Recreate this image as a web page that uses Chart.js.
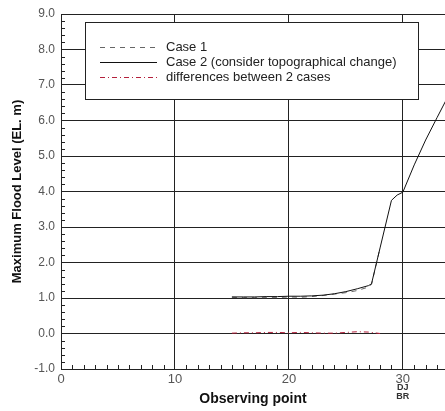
<!DOCTYPE html>
<html>
<head>
<meta charset="utf-8">
<script src="https://cdn.jsdelivr.net/npm/chart.js@4.4.0/dist/chart.umd.min.js"></script>
<style>
body { margin: 0; background: #fff; }
</style>
</head>
<body>
<canvas id="myChart" width="445" height="411"></canvas>
<script>
// data
var xTicks = [0, 10, 20, 30];
var case1X = [15, 16, 17, 18, 19, 20, 21, 22, 23, 24, 25, 26, 27, 27.25, 28];
var case1Y = [1.02, 1.01, 1.01, 1.01, 1.01, 1.03, 1.02, 1.04, 1.07, 1.11, 1.15, 1.21, 1.31, 1.38, 2.41];
var case2X = [15, 16, 17, 18, 19, 20, 21, 22, 23, 24, 25, 26, 27, 27.25, 28, 29, 29.5, 30, 31, 32, 33, 34];
var case2Y = [1.03, 1.03, 1.03, 1.04, 1.04, 1.05, 1.05, 1.06, 1.08, 1.12, 1.18, 1.26, 1.35, 1.40, 2.41, 3.75, 3.9, 3.98, 4.75, 5.45, 6.08, 6.7];
var diffX = [15, 16, 17, 18, 19, 20, 21, 22, 23, 24, 25, 26, 27, 28];
var diffY = [0.01, 0.02, 0.02, 0.03, 0.03, 0.02, 0.03, 0.02, 0.01, 0.01, 0.03, 0.05, 0.04, 0.0];
var seriesNames = ['Case 1', 'Case 2 (consider topographical change)', 'differences between 2 cases'];

var fontFam = "'Liberation Sans', Arial, sans-serif";

function toPoints(xs, ys) {
    var pts = [];
    for (var i = 0; i < xs.length; i++) {
        pts.push({x: xs[i], y: ys[i]});
    }
    return pts;
}

// minor ticks, the white legend box and the DJ/BR note under 30
var extrasPlugin = {
    id: 'extras',
    beforeDatasetsDraw: function(chart) {
        var ctx = chart.ctx;
        var xs = chart.scales.x, ys = chart.scales.y;
        var area = chart.chartArea;
        ctx.save();
        ctx.strokeStyle = '#222';
        ctx.lineWidth = 1;
        ctx.beginPath();
        for (var k = -5; k <= 45; k++) {
            if (k % 5 == 0) continue;
            var py = Math.round(ys.getPixelForValue(k / 5)) + 0.5;
            ctx.moveTo(area.left, py);
            ctx.lineTo(area.left + 4, py);
        }
        for (var j = 1; j <= 33; j++) {
            if (j % 10 == 0) continue;
            var px = Math.round(xs.getPixelForValue(j)) + 0.5;
            ctx.moveTo(px, area.bottom);
            ctx.lineTo(px, area.bottom - 4);
        }
        ctx.stroke();
        ctx.restore();
    },
    afterDatasetsDraw: function(chart) {
        var ctx = chart.ctx;
        var ds = chart.data.datasets;
        ctx.save();
        ctx.fillStyle = '#fff';
        ctx.strokeStyle = '#222';
        ctx.lineWidth = 1;
        ctx.fillRect(85.5, 22.5, 333, 77);
        ctx.strokeRect(85.5, 22.5, 333, 77);
        ctx.font = '13px ' + fontFam;
        ctx.textBaseline = 'middle';
        for (var i = 0; i < ds.length; i++) {
            var y = 47 + i * 15 + 0.5;
            ctx.strokeStyle = ds[i].borderColor;
            ctx.setLineDash(ds[i].borderDash || []);
            ctx.beginPath();
            ctx.moveTo(100, y);
            ctx.lineTo(157, y);
            ctx.stroke();
            ctx.setLineDash([]);
            ctx.fillStyle = '#222';
            ctx.fillText(ds[i].label, 166, y);
        }
        var x30 = chart.scales.x.getPixelForValue(30);
        ctx.font = 'bold 9px ' + fontFam;
        ctx.fillStyle = '#333';
        ctx.textAlign = 'center';
        ctx.fillText('DJ', x30, 388);
        ctx.fillText('BR', x30, 397);
        ctx.restore();
    }
};

var ctx = document.getElementById('myChart').getContext('2d');
var myChart = new Chart(ctx, {
    type: 'scatter',
    data: {
        datasets: [{
            label: seriesNames[0],
            data: toPoints(case1X, case1Y),
            showLine: true,
            borderColor: '#666',
            borderDash: [5, 5],
            borderWidth: 1,
            pointRadius: 0,
            order: 2
        }, {
            label: seriesNames[1],
            data: toPoints(case2X, case2Y),
            showLine: true,
            borderColor: '#111',
            borderWidth: 1,
            pointRadius: 0,
            order: 1
        }, {
            label: seriesNames[2],
            data: toPoints(diffX, diffY),
            showLine: true,
            borderColor: '#b4203c',
            borderDash: [5, 3, 1, 3],
            borderWidth: 1,
            pointRadius: 0,
            order: 0
        }]
    },
    options: {
        responsive: false,
        animation: false,
        layout: { padding: { top: 14, right: 0, left: 0, bottom: 0 } },
        plugins: {
            legend: { display: false },
            tooltip: { enabled: false }
        },
        scales: {
            x: {
                type: 'linear',
                min: 0,
                max: 33.7,
                afterBuildTicks: function(scale) {
                    scale.ticks = xTicks.map(function(v) { return {value: v}; });
                },
                afterFit: function(scale) { scale.height = 42; },
                grid: { color: '#222', drawTicks: false },
                border: { color: '#222' },
                ticks: {
                    padding: 3,
                    maxRotation: 0,
                    color: '#555',
                    font: { family: fontFam, size: 13 }
                },
                title: {
                    display: true,
                    text: 'Observing point',
                    color: '#111',
                    padding: { top: 0, bottom: 3 },
                    font: { family: fontFam, size: 14, weight: 'bold' }
                }
            },
            y: {
                min: -1,
                max: 9,
                afterFit: function(scale) { scale.width = 61; },
                grid: { color: '#222', drawTicks: false },
                border: { color: '#222' },
                ticks: {
                    stepSize: 1,
                    padding: 6,
                    color: '#555',
                    font: { family: fontFam, size: 12 },
                    callback: function(v) { return v.toFixed(1); }
                },
                title: {
                    display: true,
                    text: 'Maximum Flood Level (EL. m)',
                    color: '#111',
                    padding: { top: 10, bottom: 0 },
                    font: { family: fontFam, size: 13, weight: 'bold' }
                }
            }
        }
    },
    plugins: [extrasPlugin]
});
</script>
</body>
</html>
